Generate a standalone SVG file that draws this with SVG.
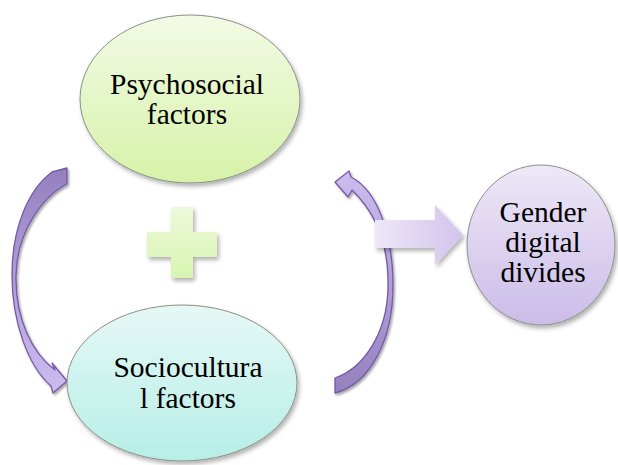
<svg xmlns="http://www.w3.org/2000/svg" width="618" height="465" viewBox="0 0 618 465">
<defs>
<linearGradient id="gGreen" x1="0" y1="0" x2="0" y2="1">
<stop offset="0" stop-color="#f3fae6"/><stop offset="1" stop-color="#d6f2a8"/>
</linearGradient>
<linearGradient id="gCyan" x1="0" y1="0" x2="0" y2="1">
<stop offset="0" stop-color="#e6f8f6"/><stop offset="1" stop-color="#b6eee6"/>
</linearGradient>
<linearGradient id="gLav" x1="0" y1="0" x2="0" y2="1">
<stop offset="0" stop-color="#eee8f7"/><stop offset="1" stop-color="#cbbce8"/>
</linearGradient>
<linearGradient id="gPlus" x1="0" y1="0" x2="0" y2="1">
<stop offset="0" stop-color="#eef9dc"/><stop offset="1" stop-color="#d8f5b0"/>
</linearGradient>
<linearGradient id="gBig" x1="0" y1="0" x2="1" y2="0">
<stop offset="0" stop-color="#eee8f7"/><stop offset="1" stop-color="#d2c3ec"/>
</linearGradient>
<linearGradient id="gArrL" gradientUnits="userSpaceOnUse" x1="0" y1="168" x2="0" y2="395">
<stop offset="0" stop-color="#9580bf"/><stop offset="1" stop-color="#cdbdee"/>
</linearGradient>
<linearGradient id="gArrR" gradientUnits="userSpaceOnUse" x1="0" y1="395" x2="0" y2="170">
<stop offset="0" stop-color="#9580bf"/><stop offset="1" stop-color="#cdbdee"/>
</linearGradient>
<filter id="sh" x="-20%" y="-20%" width="140%" height="140%">
<feDropShadow dx="2" dy="3" stdDeviation="2" flood-color="#000" flood-opacity="0.3"/>
</filter>
<filter id="shs" x="-20%" y="-20%" width="140%" height="140%">
<feDropShadow dx="1.5" dy="2" stdDeviation="1" flood-color="#000" flood-opacity="0.35"/>
</filter>
</defs>
<style>
.node{stroke:#8a8f86;stroke-width:1;filter:url(#sh)}
.lbl{font-family:"Liberation Serif","Times New Roman",serif;font-size:29.5px;fill:#000;text-anchor:middle}
.arr{stroke:#7558a8;stroke-width:1.3;stroke-linejoin:round;filter:url(#shs)}
</style>
<rect width="618" height="465" fill="#fff"/>
<g id="connectors">
<path id="arrow-left" class="arr" fill="url(#gArrL)" d="M67 168 L67 184 C42 197 17 232 16 275 C15 318 32 353 55 370 L52 363 L67 381 L53 393 L51 386 C28 366 12 322 12 275 C12 228 28 190 52 172 Z"/>
<path id="arrow-right" class="arr" fill="url(#gArrR)" d="M335 378 C364 368 387 333 388 288 C389 250 378 215 352 190 L348 197 L335 182 L349 171 L351 177 C380 192 393 240 393 286 C393 340 370 384 335 393 Z"/>
<path id="arrow-big" fill="url(#gBig)" filter="url(#sh)" d="M375 220 L435 220 L435 205 L463 235 L435 265 L435 248 L375 248 Z"/>
</g>
<g id="plus">
<path fill="url(#gPlus)" filter="url(#sh)" d="M171 207 L193 207 L193 232 L217 232 L217 257 L193 257 L193 278 L171 278 L171 257 L147 257 L147 232 L171 232 Z"/>
</g>
<g id="node-psychosocial">
<ellipse class="node" cx="190" cy="99" rx="110" ry="84" fill="url(#gGreen)"/>
<text class="lbl" x="187" y="94">Psychosocial</text>
<text class="lbl" x="187" y="124">factors</text>
</g>
<g id="node-sociocultural">
<ellipse class="node" cx="182" cy="383" rx="115" ry="78" fill="url(#gCyan)"/>
<text class="lbl" x="188" y="377">Sociocultura</text>
<text class="lbl" x="188" y="408">l factors</text>
</g>
<g id="node-gender">
<ellipse class="node" cx="541" cy="245" rx="74" ry="80" fill="url(#gLav)"/>
<text class="lbl" x="543" y="222">Gender</text>
<text class="lbl" x="543" y="252">digital</text>
<text class="lbl" x="543" y="282">divides</text>
</g>
</svg>
